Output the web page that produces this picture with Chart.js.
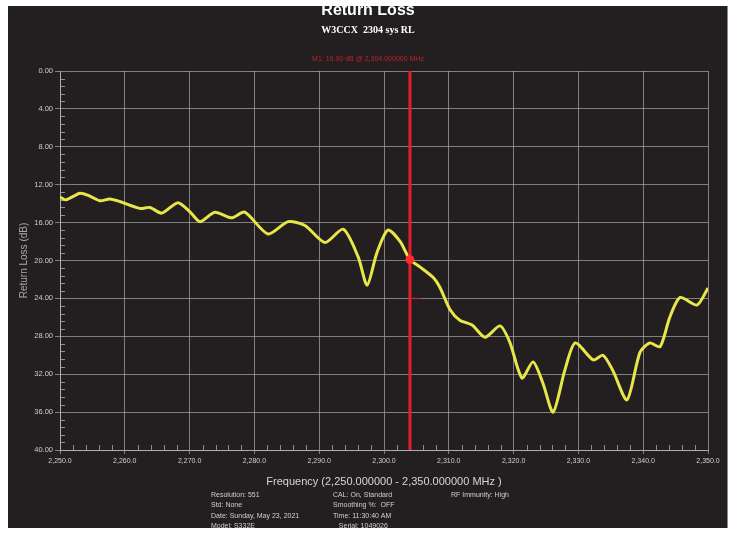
<!DOCTYPE html>
<html>
<head>
<meta charset="utf-8">
<script src="https://cdn.jsdelivr.net/npm/chart.js@4.4.1/dist/chart.umd.min.js"></script>
<style>
  html, body { margin: 0; padding: 0; background: #ffffff; }
  #wrap { position: absolute; left: 0; top: 0; width: 736px; height: 534px; }
</style>
</head>
<body>
<div id="wrap"><canvas id="chart" width="736" height="534"></canvas></div>
<script>
// Sweep data (MHz, dB)
const freqs = [2250.0, 2250.9, 2253.1, 2254.6, 2256.2, 2257.7, 2259.3, 2262.3, 2263.9, 2265.7,
  2268.2, 2270.1, 2271.6, 2273.9, 2276.5, 2278.5, 2282.1, 2285.2, 2287.8, 2290.9,
  2293.7, 2296.0, 2297.4, 2298.9, 2300.6, 2302.5, 2304.0, 2305.6, 2307.6, 2308.6,
  2310.2, 2311.7, 2313.6, 2315.6, 2317.9, 2319.4, 2321.3, 2323.0, 2324.5, 2326.1,
  2327.9, 2329.5, 2332.3, 2333.8, 2335.3, 2337.5, 2339.5, 2341.0, 2342.6, 2344.1,
  2345.7, 2348.3, 2350.0];
const returnLoss = [13.3, 13.6, 12.9, 13.2, 13.7, 13.5, 13.8, 14.5, 14.4, 15.0,
  13.9, 14.9, 15.9, 14.9, 15.5, 14.9, 17.2, 15.9, 16.3, 18.1,
  16.7, 19.6, 22.6, 19.2, 16.8, 18.0, 19.9, 20.7, 21.8, 22.8,
  25.2, 26.3, 26.8, 28.1, 26.9, 28.6, 32.4, 30.7, 32.9, 36.0,
  31.6, 28.7, 30.5, 30.0, 31.6, 34.7, 29.7, 28.7, 29.1, 26.0,
  23.9, 24.7, 22.9];

// Marker M1
const markerFreq = [2304.0];
const markerLoss = [19.9];

// Axis ranges / tick labels
const freqRange = [2250, 2350];
const lossRange = [0, 40];
const infoLines = [
  ["Resolution: 551", "Std: None", "Date: Sunday, May 23, 2021", "Model: S332E"],
  ["CAL: On, Standard", "Smoothing %:  OFF", "Time: 11:30:40 AM", "   Serial: 1049026"],
  ["RF Immunity: High"]
];

const traceData = freqs.map((f, i) => ({ x: f, y: returnLoss[i] }));

// Background panel, header, minor ticks and info block
const decor = {
  id: 'decor',
  beforeDraw(chart) {
    const ctx = chart.ctx;
    ctx.save();
    ctx.fillStyle = '#231f20';
    ctx.fillRect(8, 6, 720, 522);
    ctx.fillStyle = '#8a8a8a';
    ctx.fillRect(727, 6, 1, 522);
    ctx.restore();
  },
  beforeDatasetsDraw(chart) {
    const ctx = chart.ctx;
    const xs = chart.scales.x, ys = chart.scales.y;
    const area = chart.chartArea;
    ctx.save();
    ctx.strokeStyle = 'rgba(180,180,180,0.75)';
    ctx.lineWidth = 1;
    ctx.beginPath();
    for (let v = 0; v <= 40.01; v += 0.8) {
      if (Math.abs(v / 4 - Math.round(v / 4)) < 0.01) continue;
      const y = Math.round(ys.getPixelForValue(v)) + 0.5;
      ctx.moveTo(area.left, y);
      ctx.lineTo(area.left + 5, y);
    }
    for (let f = 2250; f <= 2350; f += 2) {
      if (f % 10 === 0) continue;
      const x = Math.round(xs.getPixelForValue(f)) + 0.5;
      ctx.moveTo(x, area.bottom);
      ctx.lineTo(x, area.bottom - 5);
    }
    ctx.stroke();
    ctx.restore();
  },
  afterDraw(chart) {
    const ctx = chart.ctx;
    ctx.save();
    ctx.textAlign = 'center';
    ctx.textBaseline = 'middle';
    ctx.fillStyle = '#ffffff';
    ctx.font = 'bold 16px "Liberation Sans", Arial, sans-serif';
    ctx.fillText('Return Loss', 368, 11);
    ctx.font = 'bold 10px "Liberation Serif", "Times New Roman", serif';
    ctx.fillText('W3CCX  2304 sys RL', 368, 30);
    ctx.fillStyle = '#c0202a';
    ctx.font = '7px "Liberation Sans", Arial, sans-serif';
    ctx.fillText('M1: 19.90 dB @ 2,304.000000 MHz', 368, 59);

    ctx.textAlign = 'left';
    ctx.fillStyle = '#cfcfcf';
    ctx.font = '7px "Liberation Sans", Arial, sans-serif';
    const colX = [211, 333, 451];
    infoLines.forEach((col, c) => {
      col.forEach((t, r) => ctx.fillText(t, colX[c], 495 + r * 10.5));
    });
    ctx.restore();
  }
};

new Chart(document.getElementById('chart'), {
  type: 'line',
  data: {
    datasets: [
      {
        label: 'Return Loss',
        data: traceData,
        borderColor: '#e9e64a',
        borderWidth: 3,
        pointRadius: 0,
        tension: 0.25,
        order: 2
      },
      {
        label: 'M1 line',
        data: [{ x: markerFreq[0], y: lossRange[0] }, { x: markerFreq[0], y: lossRange[1] }],
        borderColor: '#e0202c',
        borderWidth: 3,
        pointRadius: 0,
        order: 1
      },
      {
        label: 'M1 ref',
        data: [{ x: markerFreq[0], y: 24 }, { x: markerFreq[0] + 1.7, y: 24 }],
        borderColor: '#e0202c',
        borderWidth: 1,
        pointRadius: 0,
        order: 1
      },
      {
        label: 'M1',
        data: markerFreq.map((f, i) => ({ x: f, y: markerLoss[i] })),
        borderColor: '#ff2a2a',
        backgroundColor: '#ff2a2a',
        pointRadius: 4,
        showLine: false,
        order: 0
      }
    ]
  },
  options: {
    responsive: false,
    animation: false,
    layout: { padding: { left: 14, right: 28, top: 71, bottom: 42 } },
    plugins: {
      legend: { display: false },
      tooltip: { enabled: false }
    },
    scales: {
      x: {
        type: 'linear',
        min: freqRange[0],
        max: freqRange[1],
        grid: { color: 'rgba(170,170,170,0.7)', tickLength: 4, lineWidth: 1 },
        border: { color: 'rgba(180,180,180,0.85)' },
        ticks: {
          stepSize: 10,
          padding: 3,
          maxRotation: 0,
          color: '#cfcfcf',
          font: { size: 7, family: '"Liberation Sans", Arial, sans-serif' },
          callback: v => v.toLocaleString('en-US', { minimumFractionDigits: 1, maximumFractionDigits: 1 })
        },
        title: {
          display: true,
          text: 'Frequency (2,250.000000 - 2,350.000000 MHz )',
          color: '#d6d6d6',
          font: { size: 11, family: '"Liberation Sans", Arial, sans-serif' },
          padding: { top: 0, bottom: 3 }
        },
        afterFit(scale) {
          scale.height = 42;
          scale.paddingLeft = 0;
          scale.paddingRight = 0;
        }
      },
      y: {
        type: 'linear',
        reverse: true,
        min: lossRange[0],
        max: lossRange[1],
        grid: { color: 'rgba(170,170,170,0.7)', tickLength: 5, lineWidth: 1 },
        border: { color: 'rgba(180,180,180,0.85)' },
        ticks: {
          stepSize: 4,
          padding: 2,
          color: '#cfcfcf',
          font: { size: 7.5, family: '"Liberation Sans", Arial, sans-serif' },
          callback: v => v.toFixed(2)
        },
        title: {
          display: true,
          text: 'Return Loss (dB)',
          color: '#a8a8a8',
          font: { size: 10, family: '"Liberation Sans", Arial, sans-serif' },
          padding: { top: 4, bottom: 0 }
        },
        afterFit(scale) {
          scale.width = 46;
          scale.paddingTop = 0;
          scale.paddingBottom = 0;
        }
      }
    }
  },
  plugins: [decor]
});
</script>
</body>
</html>
